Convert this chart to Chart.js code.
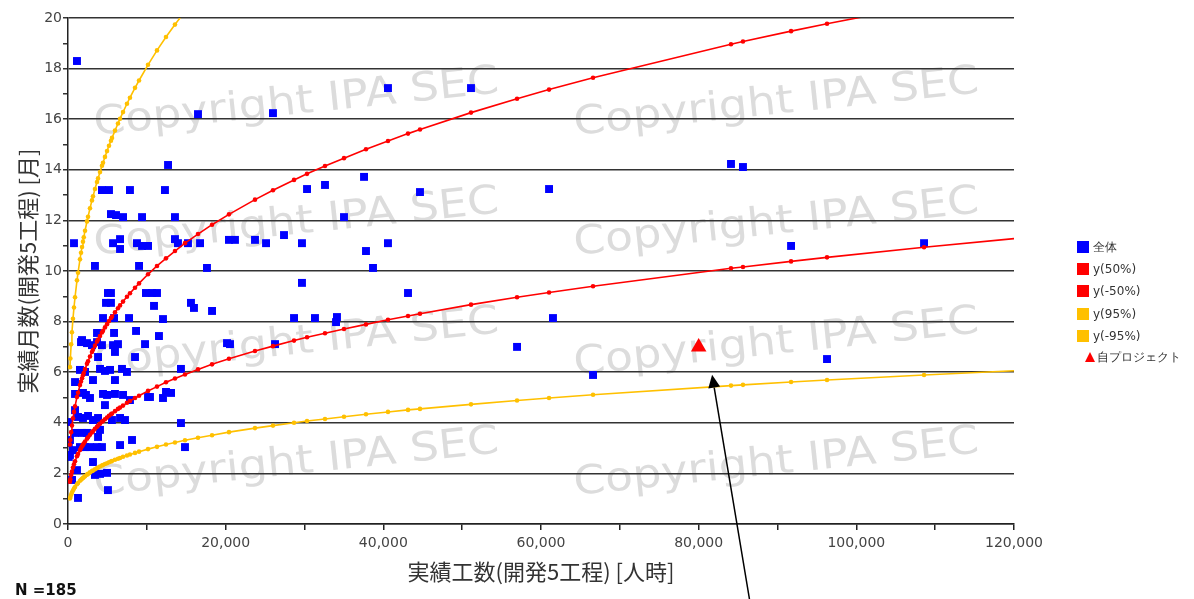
<!DOCTYPE html>
<html><head><meta charset="utf-8">
<script src="https://cdn.jsdelivr.net/npm/chart.js@4.4.1/dist/chart.umd.min.js"></script>
<style>
html,body{margin:0;padding:0;background:#fff;}
#wrap{position:relative;width:1194px;height:599px;overflow:hidden;background:#fff;}
#c{position:absolute;left:0;top:0;}
#legend{position:absolute;left:0;top:0;font:12px "DejaVu Sans";color:#333;}
.item{position:absolute;white-space:nowrap;line-height:14px;height:14px;}
#n{position:absolute;left:15px;top:581px;font:bold 15px "DejaVu Sans";color:#111;}
</style></head>
<body><div id="wrap"><canvas id="c" width="1194" height="599"></canvas><div id="legend"></div><div id="n">N =185</div></div>
<script>
// ---- data ----
const allX = [4310,5200,7860,5450,6090,6980,9390,760,5710,6600,6600,8750,9390,10150,3420,9010,5070,5450,9890,10660,11290,4820,5450,10910,4440,5840,7740,5840,8630,3680,12050,11540,12690,12300,13570,13570,13950,15220,16750,20420,21180,17630,15600,15980,18270,20170,20550,14330,12430,13070,12050,10400,14330,14840,1140,16490,
40590,51120,26000,30320,32600,37550,44650,61020,35010,23720,25120,27400,29680,37800,40590,38690,29680,43130,28670,31330,34120,34000,61520,26260,56960,84100,85620,91720,108590,96280,66600,
1650,2410,3040,3680,4310,5710,6340,9770,5960,3810,8500,1520,2160,4060,4690,5330,6850,7480,890,3170,5960,890,1900,2280,4440,4950,5960,6980,10150,130,1270,1900,2540,3170,3810,5580,6600,7230,890,1780,2410,4060,3810,1520,2160,2790,3680,4310,6600,8120,250,100,3170,3420,4060,4950,1140,5070,1270,1780,630,250,510,100,890,2790,4690,7860];
const allY = [13.2,13.2,13.2,12.25,12.21,12.13,12.13,11.1,11.1,11.26,10.87,11.1,10.99,10.99,10.2,10.2,9.13,9.13,9.13,9.13,9.13,8.74,8.74,8.62,8.14,8.14,8.14,7.55,7.63,7.55,8.1,7.43,14.19,13.2,12.13,11.26,11.1,11.1,11.1,11.23,11.23,10.12,8.74,8.54,8.42,7.15,7.11,6.13,5.22,5.18,4.98,5.02,3.99,3.04,18.3,16.2,
17.23,17.23,16.24,13.24,13.4,13.72,13.12,13.24,12.13,11.23,11.1,11.42,11.1,10.79,11.1,10.12,9.53,9.13,8.14,8.14,8.18,7.98,8.14,7.11,7.0,14.23,14.11,10.99,11.1,6.52,5.89,
7.19,7.15,7.07,7.19,7.07,7.07,7.11,7.11,6.8,6.6,6.6,6.09,6.01,6.13,6.05,6.09,6.13,6.01,5.61,5.69,5.69,5.14,5.18,5.1,5.14,5.1,5.14,5.1,5.02,4.03,4.23,4.19,4.27,4.11,4.19,4.11,4.19,4.11,3.6,3.6,3.6,3.72,3.44,3.04,3.04,3.04,3.04,3.04,3.12,3.32,2.73,3.2,2.45,1.94,1.98,2.02,2.13,1.34,1.03,7.27,2.92,3.32,1.74,2.65,4.5,4.98,4.7,4.9];

const curveX = [250,300,400,500,630,760,890,1140,1270,1520,1650,1780,1900,2000,2160,2410,2540,2790,3040,3170,3420,3680,3810,4060,4310,4440,4690,4950,5200,5450,5580,5960,6340,6600,6980,7480,7860,8500,9010,
10150,11290,12430,13570,14840,16490,18270,20420,23720,26000,28670,30320,32600,35010,37800,40590,43130,44650,51120,56960,61020,66600,84100,85620,91720,96280,108590,120000];
const y50  = [3.14,3.32,3.63,3.89,4.18,4.43,4.65,5.02,5.19,5.49,5.63,5.76,5.88,5.97,6.12,6.33,6.43,6.62,6.80,6.89,7.05,7.21,7.29,7.43,7.57,7.64,7.77,7.90,8.02,8.14,8.20,8.37,8.53,8.64,8.79,8.98,9.12,9.34,9.51,
9.87,10.20,10.50,10.79,11.10,11.46,11.83,12.24,12.82,13.19,13.60,13.84,14.15,14.46,14.81,15.14,15.43,15.59,16.26,16.81,17.17,17.64,18.96,19.07,19.48,19.77,20.52,21.16];
const yM50 = [1.67,1.77,1.94,2.07,2.23,2.36,2.48,2.68,2.77,2.92,3.00,3.07,3.13,3.18,3.26,3.37,3.43,3.53,3.62,3.67,3.76,3.84,3.89,3.96,4.04,4.07,4.14,4.21,4.28,4.34,4.37,4.46,4.55,4.60,4.68,4.79,4.86,4.98,5.07,
5.26,5.43,5.60,5.75,5.91,6.11,6.31,6.53,6.84,7.03,7.25,7.38,7.54,7.71,7.89,8.07,8.22,8.31,8.67,8.96,9.15,9.40,10.11,10.16,10.38,10.54,10.94,11.28];
const y95  = [6.20,6.54,7.10,7.58,8.11,8.56,8.96,9.63,9.93,10.46,10.72,10.95,11.16,11.33,11.59,11.96,12.14,12.48,12.79,12.95,13.24,13.52,13.66,13.91,14.16,14.28,14.51,14.74,14.95,15.15,15.26,15.55,15.83,16.02,16.28,16.61,16.85,17.24,17.53,
18.15,18.72,19.25,19.74,20.26];
const yM95 = [1.01,1.07,1.16,1.24,1.32,1.40,1.46,1.57,1.62,1.71,1.75,1.79,1.82,1.85,1.89,1.95,1.98,2.04,2.09,2.11,2.16,2.21,2.23,2.27,2.31,2.33,2.37,2.40,2.44,2.47,2.49,2.54,2.58,2.61,2.66,2.71,2.75,2.81,2.86,
2.96,3.05,3.14,3.22,3.31,3.41,3.51,3.63,3.79,3.89,4.00,4.07,4.15,4.24,4.34,4.43,4.51,4.55,4.73,4.88,4.98,5.11,5.47,5.50,5.61,5.69,5.89,6.06];

const selfX = [80000];
const selfY = [7.0];
const arrowTip = [81700, 5.9];

const seriesLabels = ['全体','y(50%)','y(-50%)','y(95%)','y(-95%)','自プロジェクト'];
const xTitle = '実績工数(開発5工程) [人時]';
const yTitle = '実績月数(開発5工程) [月]';
const watermarkText = 'Copyright IPA SEC';

// ---- styles ----
const BLUE='#0000ff', RED='#ff0000', ORANGE='#ffc000';
const zip = (xs, ys) => ys.map((y,i)=>({x:xs[i], y}));
const lastIdx = curveX.length-1;

function curveDs(label, ys, color, order){
  return {type:'line', label, data: zip(curveX, ys), borderColor:color, backgroundColor:color,
    borderWidth:1.6, pointRadius: c => c.dataIndex===lastIdx ? 0 : 2.3, pointBorderWidth:0,
    pointBackgroundColor:color, fill:false, tension:0, order};
}

const wmPlugin = {
  id:'wm',
  beforeDraw(chart){
    const {ctx, chartArea:a} = chart;
    ctx.save();
    ctx.beginPath(); ctx.rect(a.left, a.top, a.right-a.left, a.bottom-a.top); ctx.clip();
    ctx.font = '40px "DejaVu Sans"';
    ctx.fillStyle = '#dcdcdc';
    const w = ctx.measureText(watermarkText).width;
    const sx = 407 / w;
    for (const by of [135,255,375,495]) for (const bx of [95,575]) {
      ctx.save(); ctx.translate(bx, by); ctx.rotate(-6*Math.PI/180); ctx.scale(sx,1);
      ctx.fillText(watermarkText, 0, 0); ctx.restore();
    }
    ctx.restore();
  }
};

const arrowPlugin = {
  id:'arrow',
  afterDraw(chart){
    const {ctx, scales:{x,y}} = chart;
    const tx = x.getPixelForValue(arrowTip[0]), ty = y.getPixelForValue(arrowTip[1]);
    const fx = tx + 38, fy = ty + 228;
    const ang = Math.atan2(ty-fy, tx-fx), L = 13, W = 6;
    const bx = tx - L*Math.cos(ang), by = ty - L*Math.sin(ang);
    ctx.save();
    ctx.strokeStyle = '#000'; ctx.lineWidth = 1.5;
    ctx.beginPath(); ctx.moveTo(fx, fy); ctx.lineTo(bx, by); ctx.stroke();
    ctx.fillStyle = '#000';
    ctx.beginPath(); ctx.moveTo(tx, ty);
    ctx.lineTo(bx + W*Math.sin(ang), by - W*Math.cos(ang));
    ctx.lineTo(bx - W*Math.sin(ang), by + W*Math.cos(ang));
    ctx.closePath(); ctx.fill();
    ctx.restore();
  }
};

const tickFont = {family:'DejaVu Sans', size:14};
const titleFont = {family:'Noto Sans CJK JP', size:22};

new Chart(document.getElementById('c'), {
  data:{ datasets:[
    {type:'scatter', label:seriesLabels[0], data: zip(allX, allY), pointStyle:'rect', pointRadius:5.6,
      pointHoverRadius:5.6, backgroundColor:BLUE, borderWidth:0, order:10},
    curveDs(seriesLabels[1], y50, RED, 3),
    curveDs(seriesLabels[2], yM50, RED, 4),
    curveDs(seriesLabels[3], y95, ORANGE, 1),
    curveDs(seriesLabels[4], yM95, ORANGE, 2),
    {type:'scatter', label:seriesLabels[5], data: zip(selfX, selfY), pointStyle:'triangle', pointRadius:9,
      backgroundColor:RED, borderColor:RED, borderWidth:0, order:0}
  ]},
  options:{
    responsive:false, animation:false, devicePixelRatio:1,
    layout:{padding:{top:18, right:180, bottom:0, left:0}},
    plugins:{legend:{display:false}, tooltip:{enabled:false}},
    events:[],
    scales:{
      x:{type:'linear', min:0, max:120000,
        afterFit(s){ s.height = 75; },
        border:{display:true, color:'#222', width:1.5},
        grid:{drawOnChartArea:false, drawTicks:true, tickLength:6, color:'#222', lineWidth:1.5},
        ticks:{stepSize:10000, autoSkip:false, maxRotation:0, padding:5, color:'#444', font:tickFont,
          callback:v => (v % 20000 === 0) ? v.toLocaleString('en-US') : ''},
        title:{display:true, text:xTitle, color:'#333', font:titleFont, padding:{top:0, bottom:14}}
      },
      y:{type:'linear', min:0, max:20,
        afterFit(s){ s.width = 68; },
        border:{display:true, color:'#222', width:1.5},
        grid:{color:c => (c.tick && c.tick.value % 2 === 0) ? '#333' : 'rgba(0,0,0,0)',
          tickColor:'#333', lineWidth:1.5, tickLength:5, drawTicks:true},
        ticks:{stepSize:1, autoSkip:false, padding:1, color:'#444', font:tickFont,
          callback:v => (v % 2 === 0) ? String(v) : ''},
        title:{display:true, text:yTitle, color:'#333', font:titleFont, padding:{top:14, bottom:0}}
      }
    }
  },
  plugins:[wmPlugin, arrowPlugin]
});

// ---- legend (HTML text) ----
const legendColors = [BLUE, RED, RED, ORANGE, ORANGE, RED];
const legendRowsY = [247,269,291,314,336,357];
const lg = document.getElementById('legend');
seriesLabels.forEach((t,i)=>{
  const cy = legendRowsY[i];
  const sw = document.createElement('div');
  sw.style.position='absolute';
  if (i < 5) {
    sw.style.left='1077px'; sw.style.top=(cy-6)+'px'; sw.style.width='12px'; sw.style.height='12px';
    sw.style.background=legendColors[i];
  } else {
    sw.style.left='1085px'; sw.style.top=(cy-5)+'px'; sw.style.width='0'; sw.style.height='0';
    sw.style.borderLeft='5px solid transparent'; sw.style.borderRight='5px solid transparent';
    sw.style.borderBottom='10px solid '+legendColors[i];
  }
  lg.appendChild(sw);
  const tx = document.createElement('div');
  tx.className='item'; tx.textContent=t;
  tx.style.left = (i<5 ? 1093 : 1097)+'px'; tx.style.top=(cy-7)+'px';
  lg.appendChild(tx);
});
</script>
</body></html>
